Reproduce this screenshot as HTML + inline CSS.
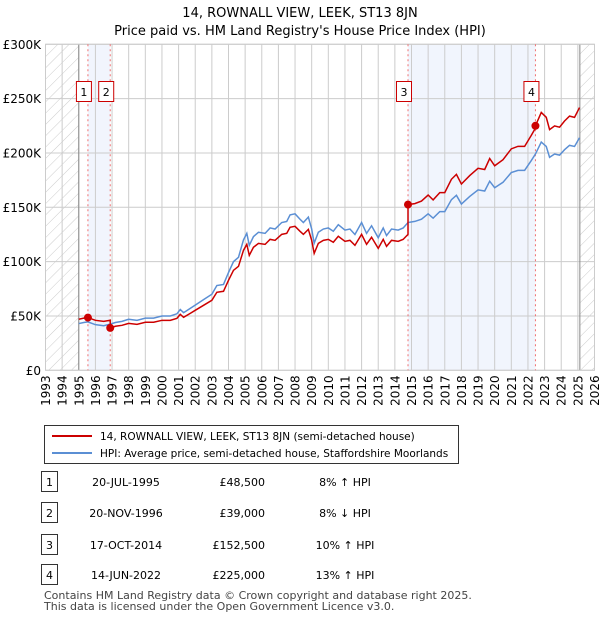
<!DOCTYPE html>
<html><head><meta charset="utf-8"><style>
body{margin:0;background:#fff;font-family:"Liberation Sans","DejaVu Sans",sans-serif;color:#222}
#wrap{position:relative;width:600px;height:620px;overflow:hidden}
svg text{font-family:"DejaVu Sans","Liberation Sans",sans-serif}
</style></head><body><div id="wrap">
<svg id="chart" width="600" height="620">
<defs><pattern id="hatch" width="8" height="8" patternUnits="userSpaceOnUse" patternTransform="rotate(45)"><line x1="0" y1="0" x2="0" y2="8" stroke="#ccc" stroke-width="1"/></pattern></defs>
<text x="300" y="17" text-anchor="middle" font-size="13">14, ROWNALL VIEW, LEEK, ST13 8JN</text>
<text x="300" y="35" text-anchor="middle" font-size="13">Price paid vs. HM Land Registry's House Price Index (HPI)</text>
<g id="grid"></g><g id="marks"></g>
<g>
<rect x="44.5" y="425.5" width="414" height="38" fill="#fff" stroke="#333"/>
<line x1="52" y1="436" x2="92" y2="436" stroke="#cc0000" stroke-width="2"/>
<text x="100" y="440" font-size="10.5">14, ROWNALL VIEW, LEEK, ST13 8JN (semi-detached house)</text>
<line x1="52" y1="453" x2="92" y2="453" stroke="#5b8fd4" stroke-width="2"/>
<text x="100" y="457" font-size="10.5">HPI: Average price, semi-detached house, Staffordshire Moorlands</text>
</g>
<g id="table" font-size="11"></g>
<text x="44" y="599" font-size="11" fill="#444">Contains HM Land Registry data © Crown copyright and database right 2025.</text>
<text x="44" y="610" font-size="11" fill="#444">This data is licensed under the Open Government Licence v3.0.</text>
</svg></div>
<script>
const yTicks=[0,50,100,150,200,250,300];
const yTickLabels=["£0","£50K","£100K","£150K","£200K","£250K","£300K"];
const years=[1993,1994,1995,1996,1997,1998,1999,2000,2001,2002,2003,2004,2005,2006,2007,2008,2009,2010,2011,2012,2013,2014,2015,2016,2017,2018,2019,2020,2021,2022,2023,2024,2025,2026];
const hpiT=[1995.0,1995.3,1995.55,1996.0,1996.5,1996.89,1997.2,1997.6,1998.0,1998.5,1999.0,1999.5,2000.0,2000.5,2000.9,2001.1,2001.3,2001.7,2002.0,2002.5,2003.0,2003.3,2003.7,2004.0,2004.3,2004.6,2004.9,2005.1,2005.25,2005.5,2005.8,2006.2,2006.5,2006.8,2007.2,2007.5,2007.7,2008.0,2008.3,2008.5,2008.8,2009.0,2009.15,2009.4,2009.7,2010.0,2010.3,2010.6,2011.0,2011.3,2011.6,2012.0,2012.3,2012.6,2013.0,2013.3,2013.5,2013.8,2014.2,2014.5,2014.79,2015.2,2015.6,2016.0,2016.3,2016.7,2017.0,2017.4,2017.7,2018.0,2018.5,2019.0,2019.4,2019.7,2020.0,2020.5,2021.0,2021.4,2021.8,2022.2,2022.45,2022.8,2023.1,2023.3,2023.6,2023.9,2024.2,2024.5,2024.8,2025.1];
const hpiV=[43,44,44.5,42,41,42.5,44,45,47,46,48,48,50,50,52,56,53,57,60,65,70,78,79,90,100,104,120,126,115,123,127,126,131,130,136,137,143,144,139,136,141,130,117,127,130,131,128,134,129,130,125,136,126,133,122,131,124,130,129,131,136,137,139,144,140,146,146,157,161,153,160,166,165,174,168,173,182,184,184,193,199,210,206,196,199,198,203,207,206,214];
const redT=[1995.0,1995.3,1995.55,1996.0,1996.5,1996.89,1996.89,1997.2,1997.6,1998.0,1998.5,1999.0,1999.5,2000.0,2000.5,2000.9,2001.1,2001.3,2001.7,2002.0,2002.5,2003.0,2003.3,2003.7,2004.0,2004.3,2004.6,2004.9,2005.1,2005.25,2005.5,2005.8,2006.2,2006.5,2006.8,2007.2,2007.5,2007.7,2008.0,2008.3,2008.5,2008.8,2009.0,2009.15,2009.4,2009.7,2010.0,2010.3,2010.6,2011.0,2011.3,2011.6,2012.0,2012.3,2012.6,2013.0,2013.3,2013.5,2013.8,2014.2,2014.5,2014.79,2014.79,2015.2,2015.6,2016.0,2016.3,2016.7,2017.0,2017.4,2017.7,2018.0,2018.5,2019.0,2019.4,2019.7,2020.0,2020.5,2021.0,2021.4,2021.8,2022.2,2022.45,2022.45,2022.8,2023.1,2023.3,2023.6,2023.9,2024.2,2024.5,2024.8,2025.1];
const redV=[47,48,48.5,46,45,46,39,40.5,41.4,43.2,42.3,44.2,44.2,46,46,47.8,51.5,48.8,52.4,55.2,59.8,64.4,71.8,72.7,82.8,92,95.7,110.4,115.9,105.8,113.2,116.8,115.9,120.5,119.6,125.1,126,131.6,132.5,127.9,125.1,129.7,119.6,107.6,116.8,119.6,120.5,117.8,123.3,118.7,119.6,115,125.1,115.9,122.4,112.2,120.5,114.1,119.6,118.7,120.5,125.1,152.5,153.4,155.7,161.3,156.8,163.5,163.5,175.8,180.3,171.4,179.2,185.9,184.8,194.9,188.2,193.8,203.8,206.1,206.1,216.2,222.9,225,237.3,232.8,221.5,224.9,223.7,229.4,233.9,232.8,241.8];
const saleIds=["1","2","3","4"];
const saleT=[1995.55,1996.89,2014.79,2022.45];
const saleV=[48.5,39,152.5,225];
const saleDates=["20-JUL-1995","20-NOV-1996","17-OCT-2014","14-JUN-2022"];
const salePrices=["£48,500","£39,000","£152,500","£225,000"];
const saleHpi=["8% ↑ HPI","8% ↓ HPI","10% ↑ HPI","13% ↑ HPI"];
const dataEnd=2025.12;

const X0=45.5,X1=594.5,Y0=370.3,Y1=44.3;
const xs=t=>X0+(t-1993)/(2026-1993)*(X1-X0);
const ys=v=>Y0-v/300*(Y0-Y1);
const NS="http://www.w3.org/2000/svg";
function mk(parent,tag,attrs){const e=document.createElementNS(NS,tag);for(const k in attrs)e.setAttribute(k,attrs[k]);parent.appendChild(e);return e;}
const g=document.getElementById('grid'),m=document.getElementById('marks'),tb=document.getElementById('table');

let e;
e=mk(g,'rect',{x:xs(saleT[0]),y:Y1,width:xs(saleT[1])-xs(saleT[0]),height:Y0-Y1,fill:'#eef3fc',opacity:0.8});

e=mk(g,'rect',{x:xs(saleT[2]),y:Y1,width:xs(saleT[3])-xs(saleT[2]),height:Y0-Y1,fill:'#eef3fc',opacity:0.8});

years.forEach((yr,i)=>{
 e=mk(g,'line',{x1:xs(yr),x2:xs(yr),y1:Y1,y2:Y0,stroke:'#ccc','stroke-width':1});
 
 e=mk(g,'text',{x:0,y:0,'font-size':12,'text-anchor':'end',transform:`translate(${xs(yr)+4.5},${Y0+5}) rotate(-90)`});
 e.textContent=yr;
 
});
yTicks.forEach((v,i)=>{
 e=mk(g,'line',{x1:X0,x2:X1,y1:ys(v),y2:ys(v),stroke:'#ccc','stroke-width':1});
 
 e=mk(g,'text',{x:41,y:ys(v)+4.5,'font-size':12,'text-anchor':'end'});
 e.textContent=yTickLabels[i];
 
});
e=mk(g,'rect',{x:X0,y:Y1,width:xs(1995)-X0,height:Y0-Y1,fill:'url(#hatch)'});

e=mk(g,'rect',{x:xs(dataEnd),y:Y1,width:X1-xs(dataEnd),height:Y0-Y1,fill:'url(#hatch)'});

e=mk(g,'line',{x1:xs(1995),x2:xs(1995),y1:Y1,y2:Y0,stroke:'#888','stroke-width':1});

e=mk(g,'line',{x1:xs(dataEnd),x2:xs(dataEnd),y1:Y1,y2:Y0,stroke:'#888','stroke-width':1});

e=mk(g,'rect',{x:X0,y:Y1,width:X1-X0,height:Y0-Y1,fill:'none',stroke:'#ccc'});


saleT.forEach((t,i)=>{
 e=mk(m,'line',{x1:xs(t),x2:xs(t),y1:Y1,y2:Y0,stroke:'#f07070','stroke-width':1,'stroke-dasharray':'2,3'});
 
});
e=mk(m,'polyline',{points:hpiT.map((t,i)=>xs(t)+','+ys(hpiV[i])).join(' '),fill:'none',stroke:'#5b8fd4','stroke-width':1.5});

e=mk(m,'polyline',{points:redT.map((t,i)=>xs(t)+','+ys(redV[i])).join(' '),fill:'none',stroke:'#cc0000','stroke-width':1.5});

saleT.forEach((t,i)=>{
 e=mk(m,'circle',{cx:xs(t),cy:ys(saleV[i]),r:4,fill:'#cc0000'});
 
 e=mk(m,'rect',{x:xs(t)-11.5,y:81.5,width:15,height:20,fill:'#fff',stroke:'#cc0000'});
 
 e=mk(m,'text',{x:xs(t)-4,y:96,'font-size':11,'text-anchor':'middle'});
 e.textContent=saleIds[i];
 
 const ry=[482,513,545,575][i];
 e=mk(tb,'rect',{x:41.5,y:ry-10.5,width:16,height:20,fill:'#fff',stroke:'#333'});
 
 e=mk(tb,'text',{x:49.5,y:ry+4,'text-anchor':'middle'});e.textContent=saleIds[i];
 
 e=mk(tb,'text',{x:126,y:ry+4,'text-anchor':'middle'});e.textContent=saleDates[i];
 
 e=mk(tb,'text',{x:265,y:ry+4,'text-anchor':'end'});e.textContent=salePrices[i];
 
 e=mk(tb,'text',{x:345,y:ry+4,'text-anchor':'middle'});e.textContent=saleHpi[i];
 
});
</script></body></html>
